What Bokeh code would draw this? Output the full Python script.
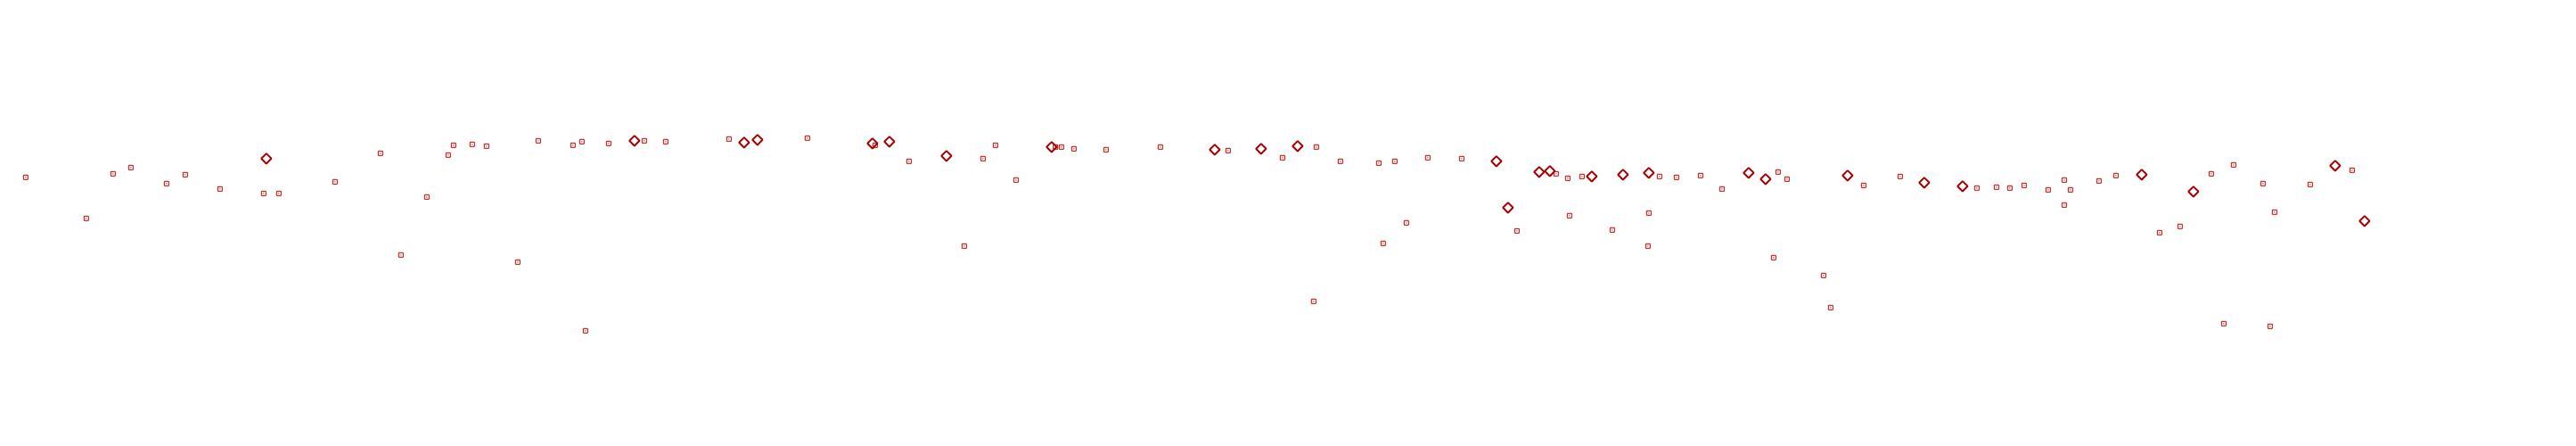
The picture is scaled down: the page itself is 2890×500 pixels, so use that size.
import math
from bokeh.plotting import figure
from bokeh.models import Range1d
from bokeh.embed import file_html
from bokeh.resources import INLINE

# Square-marker series (x, y) — y measured upward
sq_x = [28.3, 126.3, 146.3, 96.3, 186.3, 207.3, 246.3, 295.3, 312.3, 375.3, 426.3, 478.3, 449.3,
        508.3, 529.3, 545.3, 502.3, 603.3, 642.3, 652.3, 682.3, 722.3, 746.3, 817.3, 905.3, 580.3, 656.3,
        981.3, 1019.3, 1102.3, 1116.3, 1139.3, 1081.3, 1183.7, 1190.3, 1204.3, 1240.3, 1301.3, 1377.3, 1438.3,
        1476.3, 1503.3, 1546.3, 1564.3, 1601.3, 1639.3, 1701.3, 1577.3, 1551.3, 1473.3, 1745.3, 1758.3, 1774.3,
        1861.3, 1880.3, 1907.3, 1760.3, 1849.3, 1808.3, 1848.3,
        1931.3, 1994.3, 2004.3, 2090.3, 2131.3, 2217.3, 2239.3, 2254.3, 2270.3, 2297.3, 2315.3, 2322.3, 2315.3,
        2354.3, 2373.3, 1989.3, 2045.3, 2053.3,
        2480.3, 2505.3, 2538.3, 2591.3, 2638.3, 2551.3, 2445.3, 2422.3, 2494.3, 2546.3]
sq_py = [198.3, 194.3, 187.3, 244.3, 205.3, 195.3, 211.3, 216.3, 216.3, 203.3, 171.3, 220.3, 285.3,
         162.3, 161.3, 163.3, 173.3, 157.3, 162.3, 158.3, 160.3, 157.3, 158.3, 155.3, 154.3, 293.3, 370.3,
         162.3, 180.3, 177.3, 162.3, 201.3, 275.3, 164.3, 164.3, 166.3, 167.3, 164.3, 168.3, 176.3,
         164.3, 180.3, 182.3, 180.3, 176.3, 177.3, 258.3, 249.3, 272.3, 337.3, 194.3, 199.3, 197.3,
         197.3, 198.3, 196.3, 241.3, 238.3, 257.3, 275.3,
         211.3, 192.3, 200.3, 207.3, 197.3, 210.3, 209.3, 210.3, 207.3, 212.3, 201.3, 212.3, 229.3,
         202.3, 196.3, 288.3, 308.3, 344.3,
         194.3, 184.3, 205.3, 206.3, 190.3, 237.3, 253.3, 260.3, 362.3, 365.3]
sq_y = [500 - v for v in sq_py]

# Diamond-marker series
dm_x = [298.3, 711.3, 834.3, 849.3, 978.3, 997.3, 1061.3, 1179.3, 1362.3, 1414.3,
        1455.3, 1678.3, 1691.3, 1726.3, 1738.3, 1785.3, 1820.3, 1849.3,
        1961.3, 1980.3, 2072.3, 2158.3, 2201.3, 2402.3, 2460.3, 2619.3, 2652.3]
dm_py = [177.3, 157.3, 159.3, 156.3, 160.3, 158.3, 174.3, 164.3, 167.3, 166.3,
         163.3, 180.3, 232.3, 192.3, 191.3, 197.3, 195.3, 193.3,
         193.3, 200.3, 196.3, 204.3, 208.3, 195.3, 214.3, 185.3, 247.3]
dm_y = [500 - v for v in dm_py]

p = figure(width=2874, height=484, output_backend="svg", toolbar_location=None,
           x_range=Range1d(0, 2874), y_range=Range1d(16, 500), min_border=0)
p.axis.visible = False
p.grid.visible = False
p.outline_line_color = None
p.background_fill_color = "white"

p.scatter(x=sq_x, y=sq_y, marker="square_dot", size=5, line_color="#c00000",
          fill_color=None, line_width=1)
p.scatter(x=dm_x, y=dm_y, marker="square", size=8, angle=math.pi / 4,
          line_color="#a80000", fill_color=None, line_width=2)

open("out.html", "w").write(file_html(p, INLINE))
